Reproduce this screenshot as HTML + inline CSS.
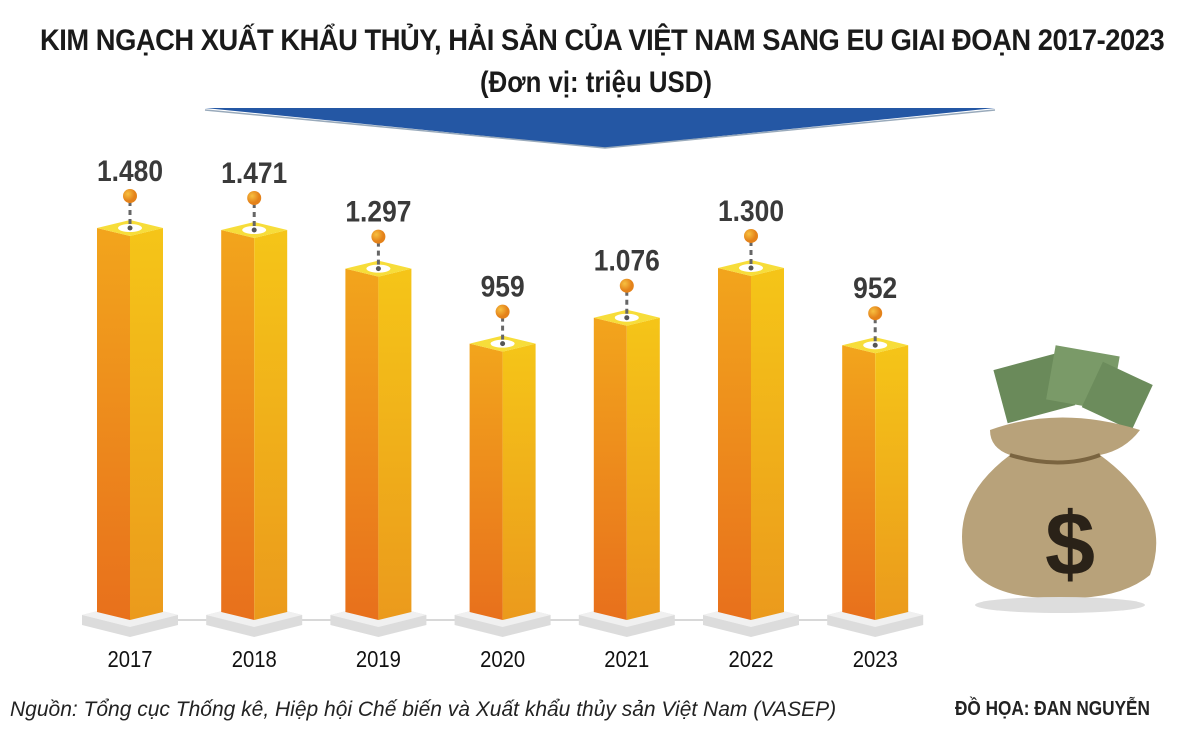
<!DOCTYPE html>
<html><head><meta charset="utf-8">
<style>
body{margin:0;background:#fff;width:1200px;height:754px;overflow:hidden;font-family:"Liberation Sans",sans-serif;}
.t{position:absolute;left:0;width:1200px;text-align:center;font-weight:bold;color:#1a1a1a;white-space:nowrap;}
</style></head><body>
<div class="t" style="top:24px;left:-14px;font-size:30px;letter-spacing:-0.5px;transform:scaleX(0.91);">KIM NGẠCH XUẤT KHẨU THỦY, HẢI SẢN CỦA VIỆT NAM SANG EU GIAI ĐOẠN 2017-2023</div>
<div class="t" style="top:66px;left:-4px;font-size:30px;transform:scaleX(0.86);">(Đơn vị: triệu USD)</div>
<svg id="chart" width="1200" height="754" style="position:absolute;left:0;top:0">
<defs>
<linearGradient id="lf" x1="0" y1="0" x2="0" y2="1"><stop offset="0" stop-color="#f2a51c"/><stop offset="1" stop-color="#e8701c"/></linearGradient>
<linearGradient id="rf" x1="0" y1="0" x2="0" y2="1"><stop offset="0" stop-color="#f5c518"/><stop offset="1" stop-color="#eb9a1c"/></linearGradient>
<radialGradient id="dot" cx="0.35" cy="0.35"><stop offset="0" stop-color="#f7c040"/><stop offset="1" stop-color="#e4821a"/></radialGradient>
</defs>
<polygon points="205,108 995,108 605,148" fill="#2457a4"/>
<polyline points="205,110 605,148 995,110" fill="none" stroke="#9ab" stroke-width="1.5"/>
<line x1="100" y1="620" x2="900" y2="620" stroke="#ccc" stroke-width="1.5"/>
<g id="bars"></g>
<g>
<rect x="1000" y="360" width="70" height="55" fill="#6a8a5a" transform="rotate(-15 1035 390)"/>
<rect x="1050" y="350" width="65" height="55" fill="#7a9a68" transform="rotate(10 1080 380)"/>
<rect x="1090" y="370" width="55" height="50" fill="#6c8c5c" transform="rotate(25 1115 395)"/>
<path d="M990,430 Q1060,405 1140,430 Q1125,450 1100,455 Q1175,510 1150,575 Q1120,600 1060,598 Q985,600 965,560 Q950,500 1010,455 Q990,448 990,430Z" fill="#b8a27a"/>
<path d="M1010,455 Q1060,470 1100,455" stroke="#7a6440" stroke-width="4" fill="none"/>
<text x="1045" y="575" font-size="90" font-weight="bold" fill="#2a2218" font-family="Liberation Sans">$</text>
<ellipse cx="1060" cy="605" rx="85" ry="8" fill="#ddd"/>
</g>
</svg>
<div style="position:absolute;left:10px;top:698px;font-size:21px;font-style:italic;color:#222;white-space:nowrap;">Nguồn: Tổng cục Thống kê, Hiệp hội Chế biến và Xuất khẩu thủy sản Việt Nam (VASEP)</div>
<div style="position:absolute;left:955px;top:698px;font-size:20px;font-weight:bold;color:#222;white-space:nowrap;transform:scaleX(0.86);transform-origin:left;">ĐỒ HỌA: ĐAN NGUYỄN</div>
<script>
const categories=["2017","2018","2019","2020","2021","2022","2023"];
const values=[1480,1471,1297,959,1076,1300,952];
const valueLabels=["1.480","1.471","1.297","959","1.076","1.300","952"];
const ns="http://www.w3.org/2000/svg";
const g=document.getElementById('bars');
function xPos(i){return 130+i*124.2;}
function yPos(v){return 228+(1480-v)*0.222;}
const BOT=615,HW=33,DH=8;
function el(t,a){const e=document.createElementNS(ns,t);for(const k in a)e.setAttribute(k,a[k]);g.appendChild(e);return e;}
categories.forEach((c,i)=>{
 const cx=xPos(i),ty=yPos(values[i]);
 const base=el('polygon',{points:`${cx-48},${BOT} ${cx},${BOT-12} ${cx+48},${BOT} ${cx+48},${BOT+10} ${cx},${BOT+22} ${cx-48},${BOT+10}`,fill:'#dcdcdc'});
 
 
 el('polygon',{points:`${cx-48},${BOT} ${cx},${BOT-12} ${cx+48},${BOT} ${cx},${BOT+12}`,fill:'#f0f0f0'});
 const l=el('polygon',{points:`${cx-HW},${ty} ${cx},${ty+DH} ${cx},${BOT+5} ${cx-HW},${BOT-3}`,fill:'url(#lf)'});
 
 
 const r=el('polygon',{points:`${cx},${ty+DH} ${cx+HW},${ty} ${cx+HW},${BOT-3} ${cx},${BOT+5}`,fill:'url(#rf)'});
 
 
 el('polygon',{points:`${cx-HW},${ty} ${cx},${ty-DH} ${cx+HW},${ty} ${cx},${ty+DH}`,fill:'#f7dd3a'});
 el('ellipse',{cx:cx,cy:ty,rx:12,ry:4,fill:'#fff'});
 el('circle',{cx:cx,cy:ty,r:2.5,fill:'#555'});
 el('line',{x1:cx,y1:ty-4,x2:cx,y2:ty-26,stroke:'#666','stroke-width':3,'stroke-dasharray':'5,4'});
 const d=el('circle',{cx:cx,cy:ty-32,r:7,fill:'url(#dot)'});
 
 
 const t=el('text',{x:0,y:0,'text-anchor':'middle','font-size':30,'font-weight':'bold',fill:'#3a3a3a','font-family':'Liberation Sans',transform:`translate(${cx},${ty-47}) scale(0.88,1)`});
 t.textContent=valueLabels[i];
 
 
 const x=el('text',{x:0,y:0,'text-anchor':'middle','font-size':23,fill:'#111','font-family':'Liberation Sans',transform:`translate(${cx},667) scale(0.88,1)`});
 x.textContent=c;
 
 
});
</script>
</body></html>
